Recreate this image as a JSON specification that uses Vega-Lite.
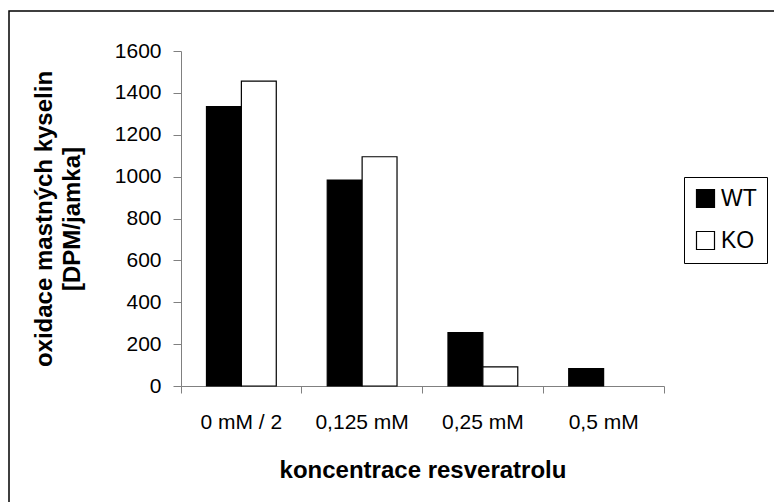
{
  "$schema": "https://vega.github.io/schema/vega-lite/v6.json",
  "width": 483,
  "height": 335,
  "autosize": {"type": "none"},
  "padding": {"left": 181, "top": 51, "right": 110, "bottom": 116},
  "background": "white",
  "config": {
    "font": "Liberation Sans",
    "view": {"stroke": null}
  },
  "layer": [
    {
      "data": {"values": [{}]},
      "mark": {"type": "rect", "fill": null, "stroke": "black", "strokeWidth": 1.5, "x": -172, "y": -40, "x2": 600, "y2": 460},
      "encoding": {}
    },
    {
      "data": {
        "values": [
          {"koncentrace": "0 mM / 2", "genotyp": "WT", "oxidace": 1334},
          {"koncentrace": "0 mM / 2", "genotyp": "KO", "oxidace": 1456},
          {"koncentrace": "0,125 mM", "genotyp": "WT", "oxidace": 984},
          {"koncentrace": "0,125 mM", "genotyp": "KO", "oxidace": 1095},
          {"koncentrace": "0,25 mM", "genotyp": "WT", "oxidace": 255},
          {"koncentrace": "0,25 mM", "genotyp": "KO", "oxidace": 91},
          {"koncentrace": "0,5 mM", "genotyp": "WT", "oxidace": 83}
        ]
      },
      "mark": {"type": "bar", "stroke": "black", "strokeWidth": 1.2},
      "encoding": {
        "x": {
          "field": "koncentrace",
          "type": "nominal",
          "sort": ["0 mM / 2", "0,125 mM", "0,25 mM", "0,5 mM"],
          "scale": {"paddingInner": 0, "paddingOuter": 0},
          "axis": {
            "title": "koncentrace resveratrolu",
            "titleFontSize": 24,
            "titleFontWeight": "bold",
            "titleColor": "black",
            "titlePadding": 26,
            "labelAngle": 0,
            "labelFontSize": 21,
            "labelColor": "black",
            "labelPadding": 18,
            "bandPosition": 1,
            "tickExtra": true,
            "tickSize": 7,
            "tickColor": "#808080",
            "domainColor": "#808080",
            "grid": false
          }
        },
        "xOffset": {
          "field": "genotyp",
          "type": "nominal",
          "sort": ["WT", "KO"],
          "scale": {"paddingInner": 0, "paddingOuter": 0.73}
        },
        "y": {
          "field": "oxidace",
          "type": "quantitative",
          "scale": {"domain": [0, 1600]},
          "axis": {
            "title": ["oxidace mastných kyselin", "[DPM/jamka]"],
            "titleFontSize": 24,
            "titleFontWeight": "bold",
            "titleColor": "black",
            "titleLineHeight": 28,
            "titlePadding": 30,
            "values": [0, 200, 400, 600, 800, 1000, 1200, 1400, 1600],
            "format": "d",
            "labelFontSize": 21,
            "labelColor": "black",
            "labelPadding": 12,
            "tickSize": 8,
            "tickColor": "#808080",
            "domainColor": "#808080",
            "grid": false
          }
        },
        "fill": {
          "field": "genotyp",
          "type": "nominal",
          "sort": ["WT", "KO"],
          "scale": {"domain": ["WT", "KO"], "range": ["black", "white"]},
          "legend": {
            "orient": "none",
            "legendX": 503,
            "legendY": 126,
            "title": null,
            "strokeColor": "black",
            "fillColor": "white",
            "padding": 10,
            "labelFontSize": 23,
            "labelColor": "black",
            "labelOffset": 4,
            "labelLimit": 0,
            "symbolType": "square",
            "symbolSize": 324,
            "symbolStrokeColor": "black",
            "symbolStrokeWidth": 1.2,
            "rowPadding": 18
          }
        }
      }
    }
  ]
}
